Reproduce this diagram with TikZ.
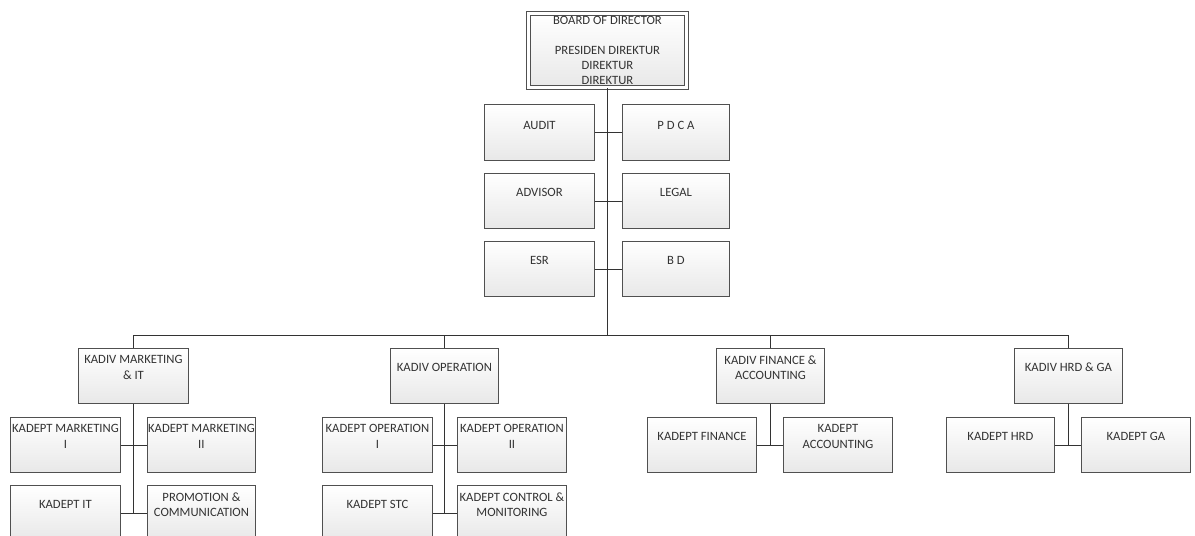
\documentclass[tikz,border=0pt]{standalone}
\usepackage{fontspec}
\setmainfont{Carlito}
\definecolor{boxline}{HTML}{505050}
\definecolor{boxtext}{HTML}{333333}
\tikzset{
  unit/.style={draw=boxline, line width=0.6pt, top color=white, bottom color=black!9,
    anchor=north west, minimum width=2.7cm, minimum height=1.375cm, inner sep=0pt},
  utext/.style={anchor=center, yshift=-4.85mm, align=center, text=boxtext,
    font={\fontsize{9}{10.8}\selectfont}},
  link/.style={draw=black!80, line width=0.6pt}
}
\begin{document}
\begin{tikzpicture}[x=0.025cm, y=-0.025cm]

\clip (0,0) rectangle (1195,535);
\fill[white] (0,0) rectangle (1195,535);

% top
\node [draw=boxline, double, double distance=1.8pt, line width=0.6pt, top color=white, bottom color=black!9,
anchor=north west, minimum width=3.95cm, minimum height=1.85cm, inner sep=0pt, align=center,
text=boxtext, font={\fontsize{9}{10.8}\selectfont}] (board) at (528,13)
{BOARD OF DIRECTOR\\[10.8pt]PRESIDEN DIREKTUR\\DIREKTUR\\DIREKTUR};

% staff units
\node [unit, minimum width=2.75cm, minimum height=1.4cm, label={[utext, yshift=-0.5mm]north:AUDIT}] (audit) at (484,104) {};
\node [unit, minimum width=2.675cm, minimum height=1.4cm, label={[utext, yshift=-0.5mm]north:P D C A}] (pdca) at (622,104) {};
\node [unit, minimum width=2.75cm, label={[utext]north:ADVISOR}] (advisor) at (484,173) {};
\node [unit, minimum width=2.675cm, label={[utext]north:LEGAL}] (legal) at (622,173) {};
\node [unit, minimum width=2.75cm, label={[utext]north:ESR}] (esr) at (484,241) {};
\node [unit, minimum width=2.675cm, label={[utext]north:B D}] (bd) at (622,241) {};

% divisions
\node [unit, minimum width=2.75cm, label={[utext]north:{KADIV MARKETING\\\& IT}}] (mkt) at (78,348) {};
\node [unit, label={[utext]north:KADIV OPERATION}] (ops) at (390,348) {};
\node [unit, label={[utext]north:{KADIV FINANCE \&\\ACCOUNTING}}] (fin) at (716,348) {};
\node [unit, label={[utext]north:KADIV HRD \& GA}] (hrd) at (1014,348) {};

% departments
\node [unit, minimum width=2.75cm, label={[utext]north:{KADEPT MARKETING\\I}}] (mkti) at (10,417) {};
\node [unit, label={[utext]north:{KADEPT MARKETING\\II}}] (mktii) at (147,417) {};
\node [unit, minimum width=2.75cm, label={[utext]north:KADEPT IT}] (it) at (10,485) {};
\node [unit, label={[utext]north:{PROMOTION \&\\COMMUNICATION}}] (promo) at (147,485) {};

\node [unit, minimum width=2.75cm, label={[utext]north:{KADEPT OPERATION\\I}}] (opsi) at (322,417) {};
\node [unit, minimum width=2.725cm, label={[utext]north:{KADEPT OPERATION\\II}}] (opsii) at (457,417) {};
\node [unit, minimum width=2.75cm, label={[utext]north:KADEPT STC}] (stc) at (322,485) {};
\node [unit, minimum width=2.725cm, label={[utext]north:{KADEPT CONTROL \&\\MONITORING}}] (ctrl) at (457,485) {};

\node [unit, minimum width=2.725cm, label={[utext]north:KADEPT FINANCE}] (kfin) at (647,417) {};
\node [unit, minimum width=2.725cm, label={[utext]north:{KADEPT\\ACCOUNTING}}] (kacc) at (783,417) {};
\node [unit, label={[utext]north:KADEPT HRD}] (khrd) at (946,417) {};
\node [unit, minimum width=2.725cm, label={[utext]north:KADEPT GA}] (kga) at (1081,417) {};

% lines
\coordinate (bus-l) at (mkt.north |- 0,335);
\coordinate (bus-r) at (hrd.north |- 0,335);
\draw [link] (board.south) -- (board.south |- bus-l);
\draw [link] (bus-l) -- (bus-r);
\draw [link] (bus-l) -- (mkt.north);
\draw [link] (ops.north |- bus-l) -- (ops.north);
\draw [link] (fin.north |- bus-l) -- (fin.north);
\draw [link] (bus-r) -- (hrd.north);

\draw [link] (audit.east) -- (pdca.west);
\draw [link] (advisor.east) -- (legal.west);
\draw [link] (esr.east) -- (bd.west);

\draw [link] (mkt.south) -- (mkt.south |- it.east);
\draw [link] (mkti.east) -- (mktii.west);
\draw [link] (it.east) -- (promo.west);
\draw [link] (ops.south) -- (ops.south |- stc.east);
\draw [link] (opsi.east) -- (opsii.west);
\draw [link] (stc.east) -- (ctrl.west);
\draw [link] (fin.south) -- (fin.south |- kfin.east);
\draw [link] (kfin.east) -- (kacc.west);
\draw [link] (hrd.south) -- (hrd.south |- khrd.east);
\draw [link] (khrd.east) -- (kga.west);

\end{tikzpicture}
\end{document}
